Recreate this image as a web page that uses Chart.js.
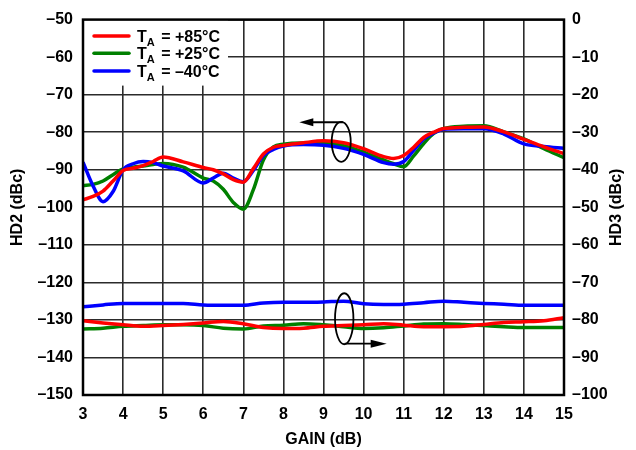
<!DOCTYPE html>
<html><head><meta charset="utf-8">
<script src="https://cdn.jsdelivr.net/npm/chart.js@4/dist/chart.umd.min.js"></script>
<style>html,body{margin:0;padding:0;background:#fff}canvas{display:block}</style>
</head><body>
<canvas id="c" width="636" height="450"></canvas>
<script>
// ---- data ----
const gainHD2 = [3,3.25,3.5,3.75,4,4.25,4.5,4.75,5,5.5,6,6.25,6.5,6.75,7,7.25,7.5,7.75,8,8.5,9,9.5,10,10.5,10.75,11,11.25,11.5,11.75,12,12.5,13,13.5,14,14.5,15];
const hd2Plus85  = [-98,-97.1,-95.7,-93,-90.2,-89.6,-88.9,-87.8,-86.6,-87.9,-89.4,-90.0,-91.1,-92.6,-93.3,-89.7,-85.8,-84.0,-83.5,-82.8,-82.3,-82.8,-84.4,-86.5,-87.0,-86.2,-84.0,-81.4,-80.0,-79.0,-78.7,-78.6,-79.9,-81.9,-83.9,-85.7];
const hd2Plus25  = [-94.2,-93.9,-93,-91.3,-89.8,-89.3,-89,-88.6,-88.3,-89.3,-92.2,-93,-95.2,-98.7,-100.5,-95.3,-87.4,-83.9,-83.2,-82.9,-82.9,-83.6,-85.3,-87.4,-88.4,-89.2,-86.3,-83,-80.3,-79,-78.4,-78.3,-79.9,-81.8,-84.4,-86.8];
const hd2Minus40 = [-88,-94.3,-98.5,-95.8,-90,-88.4,-87.8,-88.1,-89,-90.3,-93.5,-92.2,-90.9,-92.2,-93.2,-90.2,-86.2,-84.6,-83.7,-83.3,-83.5,-84.3,-85.9,-88.1,-88.5,-87.8,-84.8,-81.8,-80.2,-79.2,-79.1,-79.1,-80.5,-83.1,-83.8,-84.3];

const gainHD3 = [3,3.5,4,4.5,5,5.5,6,6.5,7,7.5,8,8.5,9,9.5,10,10.5,11,11.5,12,12.5,13,13.5,14,14.5,15];
const hd3Plus85  = [-80.2,-80.8,-81.3,-81.7,-81.5,-81.2,-80.8,-80.4,-81.0,-82.0,-82.3,-82.2,-81.7,-81.5,-81.3,-81.0,-81.4,-81.8,-81.8,-81.7,-81.2,-80.7,-80.5,-80.2,-79.4];
const hd3Plus25  = [-82.4,-82.2,-81.7,-81.5,-81.3,-81.3,-81.5,-82.2,-82.4,-81.6,-81.4,-81.0,-81.3,-81.8,-82.3,-82.1,-81.6,-81.1,-81.0,-81.2,-81.5,-81.8,-82.0,-82.0,-82.0];
const hd3Minus40 = [-76.5,-76.0,-75.6,-75.6,-75.6,-75.6,-76.0,-76.1,-76.1,-75.5,-75.3,-75.3,-75.2,-75.0,-75.7,-75.9,-75.8,-75.4,-75.0,-75.3,-75.6,-75.8,-76.1,-76.1,-76.1];

const seriesLabels = ['+85°C', '+25°C', '\u201340°C'];
const seriesColors = ['#ff0000', '#008000', '#0000ff'];
const xRange = [3, 15];
const hd2Range = [-150, -50];
const hd3Range = [-100, 0];
const xTitle = 'GAIN (dB)';
const leftTitle = 'HD2 (dBc)';
const rightTitle = 'HD3 (dBc)';

const FONT = '"Liberation Sans", Arial, sans-serif';
const pts = (xs, ys) => xs.map((x, i) => ({x: x, y: ys[i]}));
const fmt = v => (v < 0 ? '\u2013' + Math.abs(v) : String(v));

function ds(label, xs, ys, color, axis, order) {
  return {label, data: pts(xs, ys), borderColor: color, backgroundColor: color,
    borderWidth: 3.5, pointRadius: 0, fill: false, cubicInterpolationMode: 'monotone',
    yAxisID: axis, order: order};
}

const overlay = {
  id: 'overlay',
  beforeDatasetsDraw(chart) {
    const {ctx, chartArea: a} = chart;
    ctx.save();
    // legend box
    ctx.fillStyle = '#fff';
    ctx.fillRect(a.left, a.top, 145, 66);
    const rows = [16.3, 33.7, 51.3];
    rows.forEach((dy, i) => {
      const y = a.top + dy;
      ctx.strokeStyle = seriesColors[i];
      ctx.lineWidth = 3.5;
      ctx.lineCap = 'round';
      ctx.beginPath(); ctx.moveTo(a.left + 11, y); ctx.lineTo(a.left + 46, y); ctx.stroke();
      ctx.fillStyle = '#000';
      ctx.textBaseline = 'alphabetic';
      ctx.textAlign = 'left';
      let x = a.left + 54;
      ctx.font = 'bold 16px ' + FONT;
      ctx.fillText('T', x, y + 6);
      x += ctx.measureText('T').width;
      ctx.font = 'bold 11px ' + FONT;
      ctx.fillText('A', x, y + 10);
      x += ctx.measureText('A').width + 2;
      ctx.font = 'bold 16px ' + FONT;
      ctx.fillText(' = ' + seriesLabels[i], x, y + 6);
    });
    ctx.restore();
  },
  afterDatasetsDraw(chart) {
    const {ctx, chartArea: a, scales} = chart;
    const X = v => scales.x.getPixelForValue(v);
    const Y = v => scales.y.getPixelForValue(v);
    ctx.save();
    ctx.strokeStyle = '#000'; ctx.fillStyle = '#000'; ctx.lineWidth = 1.8;
    // upper ellipse + arrow to the left (HD2 -> left axis)
    ctx.beginPath(); ctx.ellipse(X(9.442), Y(-82.56), 9.5, 20, 0, 0, Math.PI * 2); ctx.stroke();
    let y1 = Y(-77.34);
    ctx.beginPath(); ctx.moveTo(X(9.49), y1); ctx.lineTo(X(8.397) + 10, y1); ctx.stroke();
    ctx.beginPath(); ctx.moveTo(X(8.397), y1); ctx.lineTo(X(8.397) + 14, y1 - 4); ctx.lineTo(X(8.397) + 14, y1 + 4); ctx.closePath(); ctx.fill();
    // lower ellipse + arrow to the right (HD3 -> right axis)
    ctx.beginPath(); ctx.ellipse(X(9.517), Y(-129.69), 9.2, 25.5, 0, 0, Math.PI * 2); ctx.stroke();
    let y2 = Y(-136.34);
    ctx.beginPath(); ctx.moveTo(X(9.53), y2); ctx.lineTo(X(10.577) - 10, y2); ctx.stroke();
    ctx.beginPath(); ctx.moveTo(X(10.577), y2); ctx.lineTo(X(10.577) - 16, y2 - 4); ctx.lineTo(X(10.577) - 16, y2 + 4); ctx.closePath(); ctx.fill();
    // plot border
    ctx.lineWidth = 2.5;
    ctx.strokeRect(a.left, a.top, a.right - a.left, a.bottom - a.top);
    ctx.restore();
  },
  afterDraw(chart) {
    const {ctx, chartArea: a} = chart;
    ctx.save();
    ctx.translate(617, (a.top + a.bottom) / 2);
    ctx.rotate(-Math.PI / 2);
    ctx.font = 'bold 16px ' + FONT;
    ctx.fillStyle = '#000';
    ctx.textAlign = 'center'; ctx.textBaseline = 'middle';
    ctx.fillText(rightTitle, 0, 0);
    ctx.restore();
  }
};

const tickFont = {family: FONT, size: 16, weight: 'bold'};
const gridCfg = {color: '#2b2b2b', lineWidth: 1.6, drawTicks: false};

new Chart(document.getElementById('c'), {
  type: 'line',
  data: {
    datasets: [
      ds('HD2 ' + seriesLabels[0], gainHD2, hd2Plus85, seriesColors[0], 'y', 0),
      ds('HD2 ' + seriesLabels[2], gainHD2, hd2Minus40, seriesColors[2], 'y', 1),
      ds('HD2 ' + seriesLabels[1], gainHD2, hd2Plus25, seriesColors[1], 'y', 2),
      ds('HD3 ' + seriesLabels[0], gainHD3, hd3Plus85, seriesColors[0], 'y2', 0),
      ds('HD3 ' + seriesLabels[2], gainHD3, hd3Minus40, seriesColors[2], 'y2', 1),
      ds('HD3 ' + seriesLabels[1], gainHD3, hd3Plus25, seriesColors[1], 'y2', 2)
    ]
  },
  options: {
    responsive: false, animation: false,
    layout: {padding: {top: 12, left: 0, right: 0, bottom: 0}},
    plugins: {legend: {display: false}, tooltip: {enabled: false}},
    scales: {
      x: {type: 'linear', min: xRange[0], max: xRange[1],
        ticks: {stepSize: 1, font: tickFont, color: '#000', padding: 10, maxRotation: 0, callback: v => fmt(v)},
        grid: gridCfg, border: {display: false},
        title: {display: true, text: xTitle, font: tickFont, color: '#000', padding: {top: 0, bottom: 1}},
        afterFit: s => { s.height = 55; }},
      y: {position: 'left', min: hd2Range[0], max: hd2Range[1],
        ticks: {stepSize: 10, font: tickFont, color: '#000', padding: 10, callback: v => fmt(v)},
        grid: gridCfg, border: {display: false},
        title: {display: true, text: leftTitle, font: tickFont, color: '#000', padding: {top: 8, bottom: 0}},
        afterFit: s => { s.width = 83; }},
      y2: {position: 'right', min: hd3Range[0], max: hd3Range[1],
        ticks: {stepSize: 10, font: tickFont, color: '#000', padding: 8, callback: v => fmt(v)},
        grid: {display: false, drawTicks: false}, border: {display: false},
        afterFit: s => { s.width = 72; }}
    }
  },
  plugins: [overlay]
});
</script>
</body></html>
